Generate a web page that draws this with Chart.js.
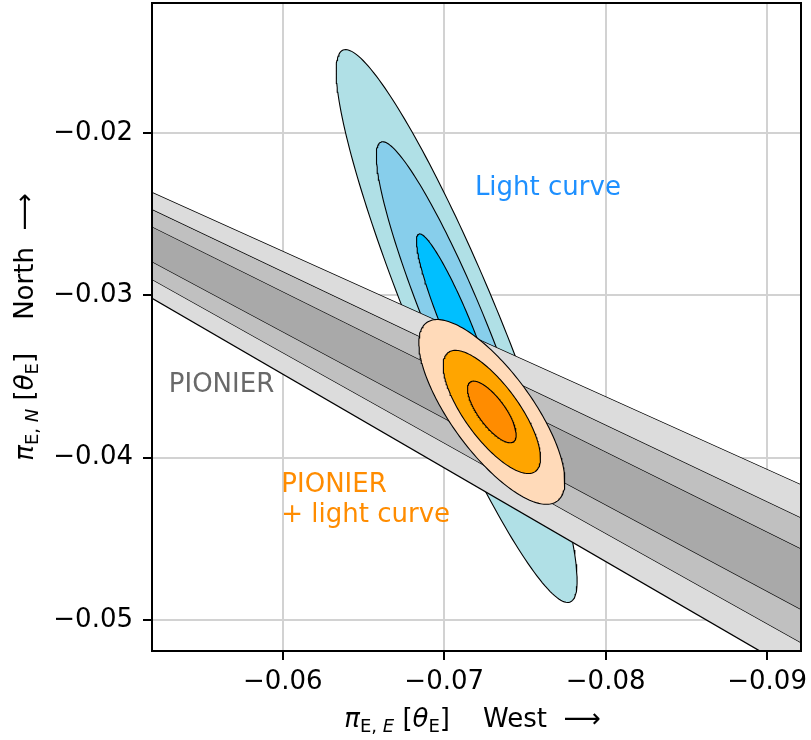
<!DOCTYPE html>
<html>
<head>
<meta charset="utf-8">
<script src="https://cdn.jsdelivr.net/npm/chart.js@4"></script>
<style>
  html, body { margin: 0; padding: 0; background: #fff; }
</style>
</head>
<body>
<canvas id="parallaxChart" width="811" height="740"></canvas>
<script>
// axis ranges and ticks
const xRange = [-0.0921, -0.0519];
const yRange = [-0.0519, -0.0120];
const xTickValues = [-0.06, -0.07, -0.08, -0.09];
const yTickValues = [-0.02, -0.03, -0.04, -0.05];

// PIONIER band edges: y at the left and right edge of the plot
const pionierEdgeX = [-0.0519, -0.0921];
const pionierLeftY = [-0.02368, -0.02474, -0.02581, -0.02797, -0.02906, -0.03018];
const pionierRightY = [-0.04168, -0.04372, -0.04563, -0.04938, -0.05142, -0.05337];

// contour ellipses (1 sigma): centre, semi-axes, tilt in degrees
const lightCurveCenter = [-0.07077, -0.03189];
const lightCurveAxes = [0.00613, 0.000895];
const lightCurveTilt = 67.5;
const combinedCenter = [-0.07295, -0.03718];
const combinedAxes = [0.002274, 0.000835];
const combinedTilt = 53.6;
const sigmaLevels = [3, 2, 1];

const blueFills = ['#b0e0e6', '#87ceeb', '#00bfff'];
const orangeFills = ['#ffdab9', '#ffa500', '#ff8c00'];
const bandFills = [null, '#dcdcdc', '#c0c0c0', '#a9a9a9', '#c0c0c0', '#dcdcdc'];

const FONT = '"DejaVu Sans", sans-serif';

function ellipseOutline(center, axes, tiltDeg, k) {
    const pts = [];
    const phi = tiltDeg * Math.PI / 180;
    for (let i = 0; i <= 200; i++) {
        const t = i / 200 * 2 * Math.PI;
        const u = k * axes[0] * Math.cos(t);
        const v = k * axes[1] * Math.sin(t);
        pts.push({
            x: center[0] + u * Math.cos(phi) - v * Math.sin(phi),
            y: center[1] + u * Math.sin(phi) + v * Math.cos(phi)
        });
    }
    return pts;
}

const datasets = [];

// light curve contours (bottom layer)
sigmaLevels.forEach((k, i) => {
    datasets.push({
        data: ellipseOutline(lightCurveCenter, lightCurveAxes, lightCurveTilt, k),
        borderColor: '#000', borderWidth: 1.1, backgroundColor: blueFills[i],
        fill: 'shape', pointRadius: 0, order: 40 - i
    });
});

// PIONIER bands
pionierLeftY.forEach((yl, i) => {
    datasets.push({
        data: [{ x: pionierEdgeX[0], y: yl }, { x: pionierEdgeX[1], y: pionierRightY[i] }],
        borderColor: '#000', borderWidth: 1.3,
        backgroundColor: bandFills[i] || 'rgba(0,0,0,0)',
        fill: i === 0 ? false : '-1', pointRadius: 0, order: 30 - i
    });
});

// PIONIER + light curve contours (top layer)
sigmaLevels.forEach((k, i) => {
    datasets.push({
        data: ellipseOutline(combinedCenter, combinedAxes, combinedTilt, k),
        borderColor: '#000', borderWidth: 1.1, backgroundColor: orangeFills[i],
        fill: 'shape', pointRadius: 0, order: 10 - i
    });
});

const annotations = [
    { lines: ['Light curve'], x: -0.0719, y: -0.02385, color: '#1e90ff' },
    { lines: ['PIONIER'], x: -0.05294, y: -0.03597, color: '#696969' },
    { lines: ['PIONIER', '+ light curve'], x: -0.05991, y: -0.04213, color: '#ff8c00' }
];

function drawRich(ctx, parts, cx, cy, rotate) {
    const fontOf = p => (p.i ? 'italic ' : '') + (p.sub ? 18 : 26) + 'px ' + FONT;
    let total = 0;
    parts.forEach(p => { ctx.font = fontOf(p); p.w = ctx.measureText(p.t).width; total += p.w; });
    ctx.save();
    ctx.translate(cx, cy);
    if (rotate) ctx.rotate(-Math.PI / 2);
    ctx.fillStyle = '#000';
    ctx.textBaseline = 'alphabetic';
    ctx.textAlign = 'left';
    let x = -total / 2;
    parts.forEach(p => { ctx.font = fontOf(p); ctx.fillText(p.t, x, p.sub ? 5 : 0); x += p.w; });
    ctx.restore();
}

const decorPlugin = {
    id: 'decor',
    afterDatasetsDraw(chart) {
        const ctx = chart.ctx;
        const a = chart.chartArea;
        const xs = chart.scales.x, ys = chart.scales.y;
        ctx.save();
        ctx.font = '26px ' + FONT;
        ctx.textAlign = 'left';
        ctx.textBaseline = 'alphabetic';
        annotations.forEach(an => {
            ctx.fillStyle = an.color;
            an.lines.forEach((t, j) => {
                ctx.fillText(t, xs.getPixelForValue(an.x), ys.getPixelForValue(an.y) + j * 30);
            });
        });
        ctx.strokeStyle = '#000';
        ctx.lineWidth = 2;
        ctx.strokeRect(a.left, a.top, a.right - a.left, a.bottom - a.top);
        ctx.restore();
    },
    afterDraw(chart) {
        const a = chart.chartArea;
        const ctx = chart.ctx;
        drawRich(ctx, [
            { t: 'π', i: 1 }, { t: 'E', sub: 1 }, { t: ', ', sub: 1 }, { t: 'E', sub: 1, i: 1 },
            { t: ' [' }, { t: 'θ', i: 1 }, { t: 'E', sub: 1 }, { t: ']' },
            { t: '    West  ' }, { t: '⟶' }
        ], (a.left + a.right) / 2 - 4, 727, false);
        drawRich(ctx, [
            { t: 'π', i: 1 }, { t: 'E', sub: 1 }, { t: ', ', sub: 1 }, { t: 'N', sub: 1, i: 1 },
            { t: ' [' }, { t: 'θ', i: 1 }, { t: 'E', sub: 1 }, { t: ']' },
            { t: '    North  ' }, { t: '⟶' }
        ], 33, (a.top + a.bottom) / 2, true);
    }
};

const fmt = v => v.toFixed(2).replace('-', '\u2212');

const gridStyle = { color: '#d2d2d2', lineWidth: 2, tickColor: '#000', tickLength: 9, tickWidth: 2 };

new Chart(document.getElementById('parallaxChart'), {
    type: 'line',
    data: { datasets: datasets },
    options: {
        responsive: false,
        animation: false,
        devicePixelRatio: 1,
        layout: { padding: { top: 3, right: 10, left: 0, bottom: 0 } },
        plugins: { legend: { display: false }, tooltip: { enabled: false } },
        elements: { line: { tension: 0 } },
        scales: {
            x: {
                type: 'linear', reverse: true, min: xRange[0], max: xRange[1],
                afterBuildTicks: s => { s.ticks = xTickValues.map(v => ({ value: v })); },
                afterFit: s => { s.height = 89; s.paddingLeft = 0; s.paddingRight = 0; },
                ticks: { font: { family: FONT, size: 26 }, color: '#000', padding: 7, maxRotation: 0, autoSkip: false, callback: fmt },
                grid: gridStyle,
                border: { display: false }
            },
            y: {
                type: 'linear', min: yRange[0], max: yRange[1],
                afterBuildTicks: s => { s.ticks = yTickValues.map(v => ({ value: v })); },
                afterFit: s => { s.width = 152; s.paddingTop = 0; s.paddingBottom = 0; },
                ticks: { font: { family: FONT, size: 26 }, color: '#000', padding: 10, autoSkip: false, callback: fmt },
                grid: gridStyle,
                border: { display: false }
            }
        }
    },
    plugins: [decorPlugin]
});
</script>
</body>
</html>
